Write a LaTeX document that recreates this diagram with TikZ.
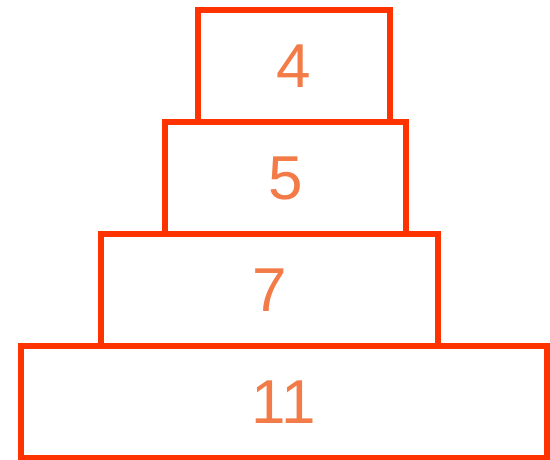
\documentclass[tikz,border=0pt]{standalone}
\usepackage{fontspec}
\setmainfont{Liberation Sans}
\usetikzlibrary{positioning}
\definecolor{tierline}{HTML}{FF3300}
\definecolor{tiertext}{HTML}{F27B47}
\tikzstyle{tier} = [rectangle, minimum height=112pt, inner sep=0pt, outer sep=0pt, text centered, draw=tierline, line width=6pt, text=tiertext, font=\fontsize{62}{62}\selectfont]

\begin{document}
\begin{tikzpicture}[x=1pt, y=1pt]
\useasboundingbox (0,0) rectangle (550,459);

% Nodes
\node (four) [tier, minimum width=191.5pt] at (293.75,393) {4};
\node (five) [tier, minimum width=241pt, below=0pt of four, xshift=-8.25pt] {5};
\node (seven) [tier, minimum width=337pt, below=0pt of five, xshift=-16pt] {7};
\node (eleven) [tier, minimum width=526pt, below=0pt of seven, xshift=14.5pt] {11};

\end{tikzpicture}
\end{document}
